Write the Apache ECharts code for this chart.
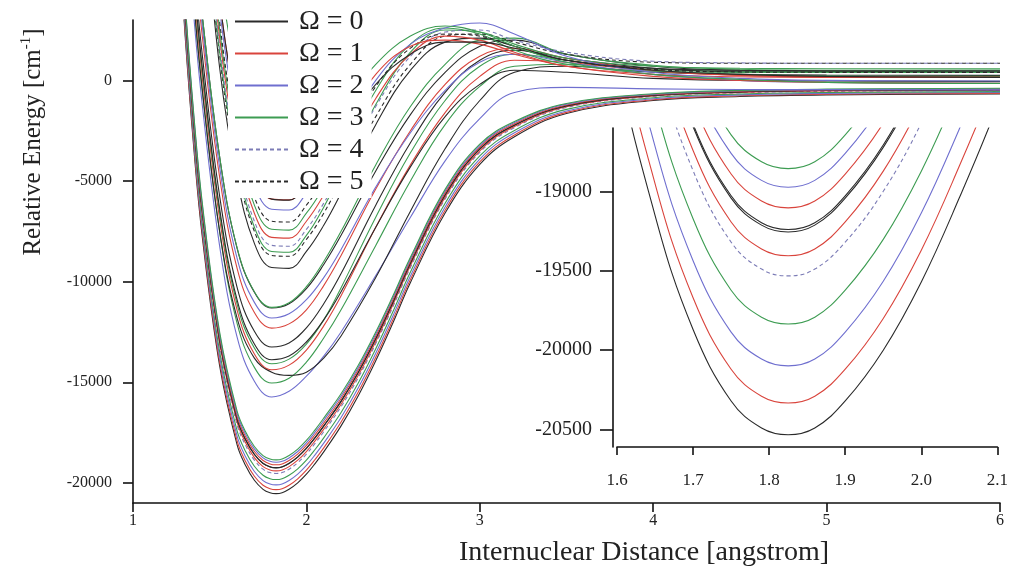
<!DOCTYPE html>
<html>
<head>
<meta charset="utf-8">
<script src="https://cdn.jsdelivr.net/npm/echarts@6.0.0/dist/echarts.min.js"></script>
<style>
html,body{margin:0;padding:0;background:#fff;}
#chart{width:1011px;height:569px;}
</style>
</head>
<body>
<div id="chart"></div>
<script>
// ---------------- DATA ----------------
const OMEGA_NAMES = ['Ω = 0', 'Ω = 1', 'Ω = 2', 'Ω = 3', 'Ω = 4', 'Ω = 5'];
const X_TICKS = [1, 2, 3, 4, 5, 6];
const Y_TICKS = [-20000, -15000, -10000, -5000, 0];
const INSET_X_TICKS = [1.6, 1.7, 1.8, 1.9, 2.0, 2.1];
const INSET_Y_TICKS = [-20500, -20000, -19500, -19000];

// fine distance grid (deep wells, also shown in the inset)
const R_FINE = [1.25, 1.3, 1.35, 1.4, 1.5, 1.6, 1.65, 1.7, 1.75, 1.79, 1.825, 1.86, 1.9, 1.95, 2.0, 2.05, 2.1,
                2.2, 2.3, 2.4, 2.5, 2.6, 2.8, 3.0, 3.2, 3.5, 4.0, 4.5, 5.0, 6.0];
// coarse distance grid (upper states)
const R_COARSE = [1.25, 1.3, 1.35, 1.4, 1.5, 1.6, 1.7, 1.8, 1.9, 2.0, 2.1, 2.2, 2.4, 2.6, 2.8, 3.0, 3.2, 3.5, 4.0, 4.5, 5.0, 6.0];

// deep wells (cm-1) on R_FINE
const A0  = [9100, 2300, -3300, -7800, -14200, -18100, -19150, -19870, -20320, -20490, -20533, -20490, -20320, -20000, -19570, -19040, -18460, -17166, -15655, -13929, -12030, -10045, -6592, -4175, -2800, -1650, -1000, -800, -720, -680];
const A1  = [9300, 2500, -3100, -7600, -14000, -17900, -18950, -19670, -20120, -20290, -20333, -20290, -20120, -19800, -19370, -18840, -18260, -16976, -15475, -13759, -11870, -9895, -6452, -4055, -2710, -1590, -960, -764, -686, -646];
const A2  = [9534, 2734, -2866, -7366, -13766, -17666, -18716, -19436, -19886, -20056, -20099, -20056, -19886, -19566, -19136, -18606, -18026, -16754, -15264, -13560, -11683, -9719, -6288, -3915, -2605, -1520, -913, -722, -646, -606];
const A3  = [9798, 2998, -2602, -7102, -13502, -17402, -18452, -19172, -19622, -19792, -19835, -19792, -19622, -19302, -18872, -18342, -17762, -16503, -15027, -13336, -11472, -9521, -6103, -3756, -2486, -1441, -860, -674, -601, -561];
const A4  = [10101, 3301, -2299, -6799, -13199, -17099, -18149, -18869, -19319, -19489, -19532, -19489, -19319, -18999, -18569, -18039, -17459, -16215, -14754, -13078, -11229, -9294, -5891, -3574, -2350, -1350, -800, -620, -550, -510];
const A5  = [10228, 3428, -2172, -6672, -13072, -16972, -18022, -18742, -19192, -19362, -19405, -19362, -19192, -18872, -18442, -17912, -17332, -16094, -14640, -12970, -11128, -9199, -5802, -3498, -2292, -1312, -774, -597, -528, -488];
const A6  = [10378, 3578, -2022, -6522, -12922, -16822, -17872, -18592, -19042, -19212, -19255, -19212, -19042, -18722, -18292, -17762, -17182, -15952, -14505, -12843, -11008, -9086, -5697, -3408, -2225, -1267, -744, -570, -503, -463];
const A7  = [10393, 3593, -2007, -6507, -12907, -16807, -17857, -18577, -19027, -19197, -19240, -19197, -19027, -18707, -18277, -17747, -17167, -15938, -14491, -12830, -10996, -9075, -5687, -3399, -2218, -1262, -741, -567, -500, -460];
const A8  = [10530, 3730, -1870, -6370, -12770, -16670, -17720, -18440, -18890, -19060, -19103, -19060, -18890, -18570, -18140, -17610, -17030, -15807, -14368, -12713, -10886, -8972, -5591, -3317, -2156, -1221, -714, -543, -477, -437];
const A9  = [10660, 3860, -1740, -6240, -12640, -16540, -17590, -18310, -18760, -18930, -18973, -18930, -18760, -18440, -18010, -17480, -16900, -15684, -14251, -12603, -10782, -8875, -5500, -3239, -2098, -1182, -688, -519, -455, -415];
const A10 = [10777, 3977, -1623, -6123, -12523, -16423, -17473, -18193, -18643, -18813, -18856, -18813, -18643, -18323, -17893, -17363, -16783, -15573, -14146, -12504, -10688, -8787, -5418, -3169, -2045, -1147, -665, -498, -435, -395];

// middle wells on R_COARSE
const M1  = [15250, 8750, 3250, -1250, -8250, -12750, -14950, -15730, -15450, -14700, -13700, -12500, -9700, -6800, -4000, -1900, -600, -350, -420, -450, -460, -470];
const M2  = [15940, 9440, 3940, -560, -7560, -12060, -14260, -15040, -14800, -14000, -12800, -11400, -8200, -5000, -2200, -300, 700, 800, 550, 450, 420, 400];
const M3  = [16000, 9500, 4000, -500, -7500, -11800, -13800, -14500, -14660, -14500, -13800, -12700, -9800, -6500, -3400, -1000, 400, 700, 400, 300, 260, 250];
const M4  = [16600, 10100, 4600, 100, -6900, -11400, -13600, -14380, -14150, -13400, -12200, -10700, -7300, -4200, -1600, 200, 1000, 900, 450, 250, 180, 150];
const M5  = [16900, 10400, 4900, 400, -6600, -11100, -13300, -14080, -13850, -13100, -11900, -10300, -6800, -3600, -1000, 700, 1300, 1000, 500, 300, 220, 200];
const M6  = [17100, 10600, 5100, 600, -6400, -10900, -13100, -13880, -13700, -13000, -11900, -10500, -7300, -4300, -1800, -200, 500, 400, 100, 0, -30, -50];
const M7  = [17730, 11230, 5730, 1230, -5770, -10270, -12470, -13250, -13050, -12300, -11100, -9600, -6200, -3100, -600, 1000, 1500, 1100, 600, 420, 400, 400];
const M8  = [18670, 12170, 6670, 2170, -4830, -9330, -11530, -12310, -12100, -11400, -10200, -8700, -5400, -2500, -200, 1200, 1600, 1100, 500, 250, 180, 150];
const M9  = [19170, 12670, 7170, 2670, -4330, -8830, -11030, -11810, -11600, -10900, -9800, -8400, -5300, -2600, -500, 900, 1300, 900, 300, 0, -100, -150];
const M10 = [19670, 13170, 7670, 3170, -3830, -8330, -10530, -11310, -11100, -10350, -9150, -7700, -4500, -1700, 400, 1700, 2000, 1300, 700, 500, 450, 420];
const M11 = [19700, 13200, 7700, 3200, -3800, -8300, -10500, -11280, -11050, -10250, -9000, -7500, -4200, -1300, 800, 2000, 2100, 1300, 750, 550, 500, 500];

// upper wells with barriers on R_COARSE
const T1  = [26600, 20600, 14600, 9600, 600, -4900, -8100, -9300, -9340, -8500, -7200, -5600, -2200, 500, 1900, 2100, 1700, 1000, 600, 500, 480, 470];
const T2  = [27200, 21200, 15200, 10200, 1200, -4300, -7500, -8700, -8740, -7900, -6600, -5000, -1800, 800, 2200, 2300, 1900, 1300, 900, 850, 850, 850];
const T3  = [27400, 21400, 15400, 10400, 1400, -4100, -7300, -8500, -8540, -7700, -6300, -4600, -1200, 1400, 2500, 2400, 1800, 1100, 700, 600, 580, 570];
const T4  = [27700, 21700, 15700, 10700, 1700, -3800, -7000, -8200, -8240, -7400, -6100, -4500, -1300, 1200, 2400, 2500, 2000, 1400, 950, 870, 850, 850];
const T5  = [28100, 22100, 16100, 11100, 2100, -3400, -6600, -7800, -7840, -7000, -5700, -4100, -900, 1300, 2200, 2000, 1400, 700, 300, 180, 150, 150];
const T6  = [28500, 22500, 16500, 11500, 2500, -3000, -6200, -7400, -7440, -6600, -5300, -3700, -500, 1800, 2600, 2300, 1500, 800, 450, 400, 400, 400];
const T7  = [28900, 22900, 16900, 11900, 2900, -2600, -5800, -7000, -7040, -6200, -4900, -3300, -300, 1600, 2300, 2200, 1700, 1000, 550, 420, 400, 400];
const T8  = [29500, 23500, 17500, 12500, 3500, -2000, -5200, -6400, -6440, -5600, -4300, -2800, 0, 1800, 2600, 2850, 2300, 1200, 400, 100, 0, -30];
const T9  = [30000, 24000, 18000, 13000, 4000, -1500, -4700, -5900, -5940, -5100, -3800, -2300, 300, 1700, 2000, 1800, 1300, 700, 200, 0, -100, -150];
const T10 = [30000, 24000, 18000, 13000, 4000, -1500, -4700, -5900, -5950, -5200, -4000, -2600, -200, 1300, 1900, 1900, 1600, 1000, 500, 300, 200, 150];
const T11 = [31500, 25500, 19500, 14500, 5500, 0, -3200, -4400, -4450, -3700, -2600, -1400, 800, 2200, 2700, 2400, 1700, 900, 300, 50, -100, -150];

// which Ω each curve belongs to
const DEEP = [[0, A0], [1, A1], [2, A2], [3, A3], [4, A4], [1, A5], [0, A6], [0, A7], [1, A8], [2, A9], [3, A10]];
const MIDDLE = [[2, M1], [3, M2], [0, M3], [1, M4], [3, M5], [0, M6], [0, M7], [1, M8], [2, M9], [0, M10], [3, M11]];
const UPPER = [[0, T1], [5, T2], [3, T3], [4, T4], [1, T5], [3, T6], [5, T7], [2, T8], [1, T9], [0, T10], [3, T11]];

// ---------------- STYLE ----------------
const SERIF = 'Liberation Serif';
const OMEGA_STYLE = [
  { color: '#2a2a2a', type: 'solid' },
  { color: '#d9443c', type: 'solid' },
  { color: '#6f6fcf', type: 'solid' },
  { color: '#3d9c52', type: 'solid' },
  { color: '#7c7cb6', type: [4, 3] },
  { color: '#2a2a2a', type: [4, 3] }
];

function pairs(r, e) { return r.map((x, i) => [x, e[i]]); }

const series = [];
function addCurve(w, r, e, gridIdx) {
  const st = OMEGA_STYLE[w];
  series.push({
    type: 'line',
    name: OMEGA_NAMES[w],
    xAxisIndex: gridIdx, yAxisIndex: gridIdx,
    data: pairs(r, e),
    smooth: 0.4,
    symbol: 'none',
    clip: true,
    silent: true,
    color: st.color,
    lineStyle: { color: st.color, width: 1.1, type: st.type }
  });
}
DEEP.forEach(([w, e]) => addCurve(w, R_FINE, e, 0));
MIDDLE.forEach(([w, e]) => addCurve(w, R_COARSE, e, 0));
UPPER.forEach(([w, e]) => addCurve(w, R_COARSE, e, 0));
DEEP.forEach(([w, e]) => addCurve(w, R_FINE, e, 1));

const axisLineStyle = { color: '#111', width: 1.6 };
const labelStyle = { fontFamily: SERIF, color: '#222' };
const plain = v => String(v);

const chart = echarts.init(document.getElementById('chart'), null, { renderer: 'canvas' });
chart.setOption({
  animation: false,
  backgroundColor: '#fff',
  grid: [
    { left: 133, top: 20, right: 11, bottom: 66 },
    { left: 617, top: 128, width: 381, height: 319 }
  ],
  xAxis: [
    {
      type: 'value', gridIndex: 0, min: 1, max: 6, interval: 1,
      axisLine: { show: true, onZero: false, lineStyle: axisLineStyle },
      axisTick: { show: true, length: 9, lineStyle: axisLineStyle, customValues: X_TICKS },
      axisLabel: Object.assign({ margin: 10, fontSize: 16, customValues: X_TICKS, formatter: plain }, labelStyle),
      splitLine: { show: false }
    },
    {
      type: 'value', gridIndex: 1, min: 1.6, max: 2.1,
      axisLine: { show: true, onZero: false, lineStyle: axisLineStyle },
      axisTick: { show: true, length: 8, lineStyle: axisLineStyle, customValues: INSET_X_TICKS },
      axisLabel: Object.assign({ margin: 25, fontSize: 17, customValues: INSET_X_TICKS,
        formatter: v => Number(v).toFixed(1) }, labelStyle),
      splitLine: { show: false }
    }
  ],
  yAxis: [
    {
      type: 'value', gridIndex: 0, min: -21000, max: 3000,
      axisLine: { show: true, onZero: false, lineStyle: axisLineStyle },
      axisTick: { show: true, length: 10, lineStyle: axisLineStyle, customValues: Y_TICKS },
      axisLabel: Object.assign({ margin: 21, fontSize: 16, customValues: Y_TICKS, formatter: plain }, labelStyle),
      splitLine: { show: false }
    },
    {
      type: 'value', gridIndex: 1, min: -20610, max: -18600, offset: 4,
      axisLine: { show: true, onZero: false, lineStyle: axisLineStyle },
      axisTick: { show: true, length: 13, lineStyle: axisLineStyle, customValues: INSET_Y_TICKS },
      axisLabel: Object.assign({ margin: 21, fontSize: 20, customValues: INSET_Y_TICKS, formatter: plain }, labelStyle),
      splitLine: { show: false }
    }
  ],
  legend: {
    data: OMEGA_NAMES,
    orient: 'vertical',
    left: 228, top: 2,
    padding: [5, 8, 2, 6],
    backgroundColor: '#fff',
    itemWidth: 53, itemHeight: 14, itemGap: 3,
    selectedMode: false,
    itemStyle: { opacity: 0 },
    textStyle: { fontFamily: SERIF, fontSize: 28, color: '#222', lineHeight: 29, padding: [0, 0, 0, 6] }
  },
  graphic: [
    {
      type: 'text', x: 33, y: 142, rotation: Math.PI / 2,
      style: {
        text: '{a|Relative Energy [cm}{s|-1}{a|]}',
        align: 'center', verticalAlign: 'middle',
        fill: '#222',
        rich: {
          a: { fontFamily: SERIF, fontSize: 25, lineHeight: 29, fill: '#222' },
          s: { fontFamily: SERIF, fontSize: 15, lineHeight: 15, verticalAlign: 'top', fill: '#222' }
        }
      }
    },
    {
      type: 'text', x: 644, y: 553,
      style: {
        text: 'Internuclear Distance [angstrom]',
        fontFamily: SERIF, fontSize: 28, fill: '#222',
        align: 'center', verticalAlign: 'middle'
      }
    }
  ],
  series: series
});
</script>
</body>
</html>
